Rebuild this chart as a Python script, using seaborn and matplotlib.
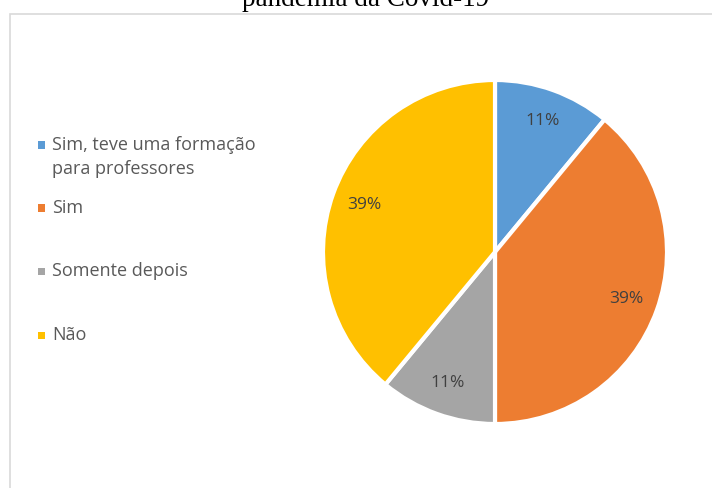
import matplotlib
matplotlib.use("Agg")
import matplotlib.pyplot as plt
import seaborn as sns
from matplotlib.patches import Rectangle

sns.set_theme(style="white")
plt.rcParams['font.family'] = ['Open Sans', 'DejaVu Sans']

categories = ["Sim, teve uma formação\npara professores", "Sim", "Somente depois", "Não"]
values = [11, 39, 11, 39]
colors = ["#5B9BD5", "#ED7D31", "#A5A5A5", "#FFC000"]
title = "pandemia da Covid-19"

W, H = 712, 488
fig = plt.figure(figsize=(W / 100, H / 100), dpi=100)
fig.patch.set_facecolor("white")

# chart border (partially cropped)
fig.add_artist(Rectangle((10 / W, -0.05), 1.0, 1 - 14 / H + 0.05, transform=fig.transFigure,
                         fill=False, edgecolor="#D9D9D9", linewidth=1.2))

# title (cropped at top)
fig.text(366 / W, 1 - 6 / H, title, ha="center", va="baseline",
         fontsize=19.5, family=["Liberation Serif"], color="#000000")

cx, cy, r = 495, 252, 172
ax = fig.add_axes([(cx - r) / W, (H - cy - r) / H, 2 * r / W, 2 * r / H])
wedges, texts, autotexts = ax.pie(values, colors=colors, startangle=90, counterclock=False,
                                  autopct=lambda p: f"{p:.0f}%", pctdistance=0.81,
                                  wedgeprops=dict(edgecolor="white", linewidth=3),
                                  textprops=dict(color="#404040", fontsize=12.5))
ax.set_xlim(-1, 1)
ax.set_ylim(-1, 1)
ax.set_aspect("equal")
ax.axis("off")

# legend
legend_y = [157, 208, 271, 335]
for lab, col, y in zip(categories, colors, legend_y):
    first_line_y = y - (12 if "\n" in lab else 0)
    fig.add_artist(Rectangle((38 / W, 1 - (first_line_y + 3.5) / H), 7 / W, 7 / H,
                             transform=fig.transFigure, facecolor=col, edgecolor="none"))
    fig.text(52 / W, 1 - y / H, lab, ha="left", va="center", fontsize=13,
             color="#595959", linespacing=1.38)

fig.savefig("out.png", dpi=100)
